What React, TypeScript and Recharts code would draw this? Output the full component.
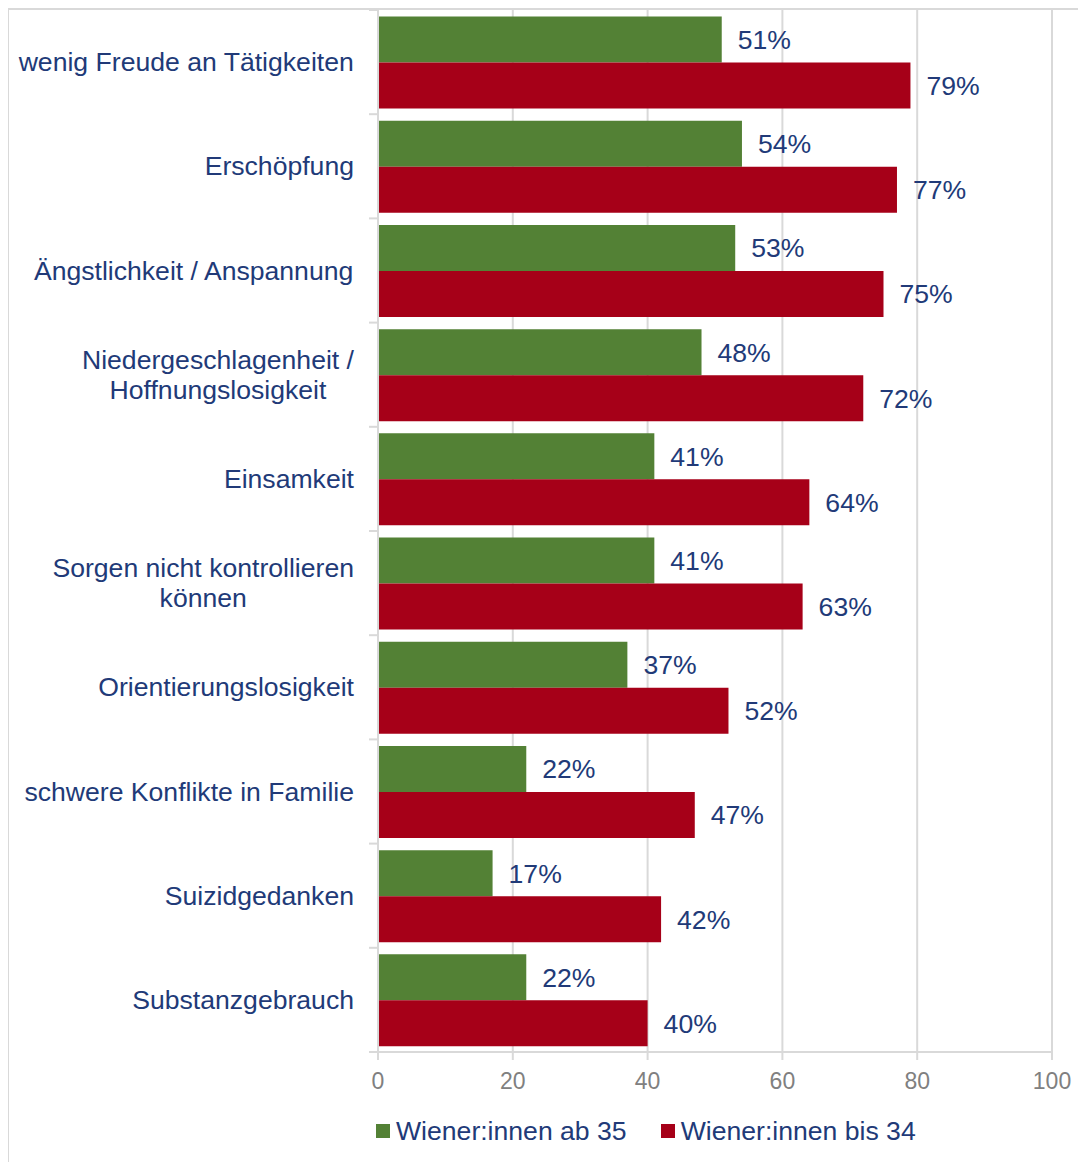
import React from "react";
import { BarChart, Bar, XAxis, YAxis, CartesianGrid, LabelList } from "recharts";

const categories = [
  "wenig Freude an Tätigkeiten",
  "Erschöpfung",
  "Ängstlichkeit / Anspannung",
  "Niedergeschlagenheit /\nHoffnungslosigkeit",
  "Einsamkeit",
  "Sorgen nicht kontrollieren\nkönnen",
  "Orientierungslosigkeit",
  "schwere Konflikte in Familie",
  "Suizidgedanken",
  "Substanzgebrauch",
];
const ab35 = [51, 54, 53, 48, 41, 41, 37, 22, 17, 22];
const bis34 = [79, 77, 75, 72, 64, 63, 52, 47, 42, 40];
const seriesNames = ["Wiener:innen ab 35", "Wiener:innen bis 34"];
const seriesColors = ["#538135", "#A60018"];
const xTicks = [0, 20, 40, 60, 80, 100];

const data = categories.map((name, i) => ({ name, ab35: ab35[i], bis34: bis34[i] }));

const FONT = '"Liberation Sans", Arial, sans-serif';
const TEXT = "#213A78";
const GRID = "#d9d9d9";
const FS = 26.6;

const W = 1078;
const H = 1154;
const MARGIN = { top: 2, right: 34, left: 0, bottom: 0 };
const XAXIS_H = 110;
const YAXIS_W = 370;
const PLOT_H = H - MARGIN.top - MARGIN.bottom - XAXIS_H;
const BAND = PLOT_H / categories.length;

let canvasCtx: CanvasRenderingContext2D | null = null;
function measure(text: string, size: number) {
  if (!canvasCtx) {
    const c = document.createElement("canvas");
    canvasCtx = c.getContext("2d");
  }
  if (!canvasCtx) return text.length * size * 0.5;
  canvasCtx.font = `${size}px ${FONT}`;
  return canvasCtx.measureText(text).width;
}

const YTick = (props: any) => {
  const { x, y, payload, index } = props;
  const lines = String(payload.value).split("\n");
  const size = FS;
  const lh = 30;
  const maxW = Math.max(...lines.map((l) => measure(l, size)));
  const cx = x - maxW / 2;
  const startY = y - ((lines.length - 1) * lh) / 2;
  const axisX = x + 24;
  return (
    <g>
      <line x1={axisX - 9} x2={axisX} y1={y - BAND / 2} y2={y - BAND / 2} stroke={GRID} strokeWidth={2} />
      {index === categories.length - 1 && (
        <line x1={axisX - 9} x2={axisX} y1={y + BAND / 2} y2={y + BAND / 2} stroke={GRID} strokeWidth={2} />
      )}
      {lines.map((l, i) => (
        <text
          key={i}
          x={cx}
          y={startY + i * lh}
          textAnchor="middle"
          dominantBaseline="central"
          fill={TEXT}
          fontSize={size}
          fontFamily={FONT}
        >
          {l}
        </text>
      ))}
    </g>
  );
};

export default function App() {
  return (
    <div style={{ position: "relative", width: W, height: H, fontFamily: FONT }}>
      <div
        style={{
          position: "absolute",
          left: -1,
          top: 0,
          width: W + 10,
          height: H + 10,
          borderTop: `2px solid ${GRID}`,
          borderLeft: `2px solid ${GRID}`,
          boxSizing: "border-box",
        }}
      />
      <div style={{ position: "absolute", left: 0, top: 0 }}>
        <BarChart
          width={W}
          height={H}
          data={data}
          layout="vertical"
          margin={MARGIN}
          barCategoryGap="6.3%"
          barGap={0}
        >
          <CartesianGrid horizontal={false} vertical={true} stroke={GRID} strokeWidth={2} />
          <XAxis
            type="number"
            domain={[0, 100]}
            ticks={xTicks}
            height={XAXIS_H}
            axisLine={{ stroke: GRID, strokeWidth: 2 }}
            tickLine={{ stroke: GRID, strokeWidth: 2 }}
            tickSize={8}
            tickMargin={13}
            tick={{ fill: "#808080", fontSize: 23, fontFamily: FONT }}
            interval={0}
          />
          <YAxis
            type="category"
            dataKey="name"
            width={YAXIS_W}
            axisLine={{ stroke: GRID, strokeWidth: 2 }}
            tickLine={false}
            tickSize={0}
            tickMargin={24}
            tick={<YTick />}
            interval={0}
          />
          <Bar dataKey="ab35" name={seriesNames[0]} fill={seriesColors[0]} isAnimationActive={false}>
            <LabelList
              dataKey="ab35"
              position="right"
              offset={16}
              formatter={(v: any) => `${v}%`}
              style={{ fill: TEXT, fontSize: FS, fontFamily: FONT }}
            />
          </Bar>
          <Bar dataKey="bis34" name={seriesNames[1]} fill={seriesColors[1]} isAnimationActive={false}>
            <LabelList
              dataKey="bis34"
              position="right"
              offset={16}
              formatter={(v: any) => `${v}%`}
              style={{ fill: TEXT, fontSize: FS, fontFamily: FONT }}
            />
          </Bar>
        </BarChart>
      </div>
      <div
        style={{
          position: "absolute",
          left: 368,
          top: 1108,
          display: "flex",
          alignItems: "center",
          height: 30,
          lineHeight: "30px",
          fontSize: FS,
          color: TEXT,
          whiteSpace: "nowrap",
        }}
      >
        {seriesNames.map((n, i) => (
          <div key={n} style={{ display: "flex", alignItems: "center", marginRight: 34 }}>
            <span style={{ width: 14, height: 14, background: seriesColors[i], display: "inline-block", marginRight: 6 }} />
            <span>{n}</span>
          </div>
        ))}
      </div>
    </div>
  );
}
